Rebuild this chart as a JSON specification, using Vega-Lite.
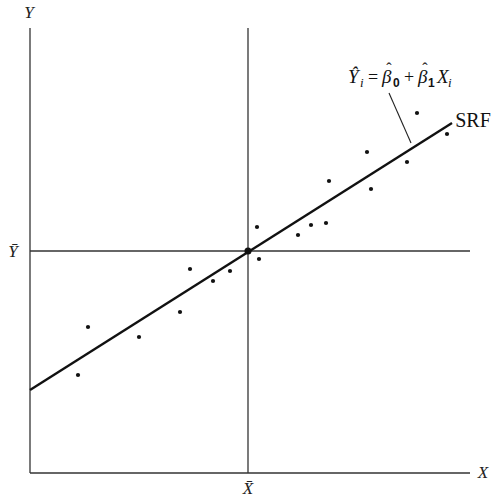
{
  "$schema": "https://vega.github.io/schema/vega-lite/v6.json",
  "width": 493,
  "height": 499,
  "padding": 0,
  "autosize": {"type": "none"},
  "background": "white",
  "config": {"view": {"stroke": null}},
  "datasets": {
    "frame": [
      {"x": 0, "y": 0, "x2": 0, "y2": 445},
      {"x": 0, "y": 0, "x2": 440, "y2": 0},
      {"x": 0, "y": 222, "x2": 440, "y2": 222},
      {"x": 218, "y": 0, "x2": 218, "y2": 445}
    ],
    "srf": [{"x": 0, "y": 83, "x2": 422, "y2": 350}],
    "pointer": [{"x": 359, "y": 380, "x2": 381, "y2": 330}],
    "obs": [
      {"x": 48, "y": 98}, {"x": 58, "y": 146}, {"x": 109, "y": 136},
      {"x": 150, "y": 161}, {"x": 160, "y": 204}, {"x": 183, "y": 192},
      {"x": 200, "y": 202}, {"x": 227, "y": 246}, {"x": 229, "y": 214},
      {"x": 268, "y": 238}, {"x": 281, "y": 248}, {"x": 296, "y": 250},
      {"x": 299, "y": 292}, {"x": 337, "y": 321}, {"x": 341, "y": 284},
      {"x": 377, "y": 311}, {"x": 387, "y": 360}, {"x": 417, "y": 339}
    ],
    "mean": [{"x": 218, "y": 222}],
    "axisLabels": [
      {"x": -1, "y": 460, "text": "Y"},
      {"x": -17, "y": 221, "text": "Ȳ"},
      {"x": 218, "y": -16, "text": "X̄"},
      {"x": 453, "y": 0, "text": "X"}
    ],
    "srfLabel": [{"x": 443, "y": 352, "text": "SRF"}],
    "eqItalic": [
      {"x": 318, "y": 390, "text": "Ŷ"},
      {"x": 352, "y": 390, "text": "β"},
      {"x": 388, "y": 390, "text": "β"},
      {"x": 407, "y": 390, "text": "X"}
    ],
    "eqHats": [
      {"x": 359, "y": 399, "text": "ˆ"},
      {"x": 395, "y": 399, "text": "ˆ"}
    ],
    "eqRoman": [
      {"x": 338, "y": 390, "text": "="},
      {"x": 374, "y": 390, "text": "+"}
    ],
    "eqSubI": [
      {"x": 330, "y": 386, "text": "i"},
      {"x": 418, "y": 386, "text": "i"}
    ],
    "eqSubB": [
      {"x": 363, "y": 386, "text": "0"},
      {"x": 398, "y": 386, "text": "1"}
    ]
  },
  "encoding": {
    "x": {"field": "x", "type": "quantitative", "scale": {"domain": [-30, 463], "nice": false, "zero": false}, "axis": null},
    "y": {"field": "y", "type": "quantitative", "scale": {"domain": [-26, 473], "nice": false, "zero": false}, "axis": null}
  },
  "layer": [
    {
      "data": {"name": "frame"},
      "mark": {"type": "rule", "stroke": "#333333", "strokeWidth": 1.3},
      "encoding": {"x2": {"field": "x2"}, "y2": {"field": "y2"}}
    },
    {
      "data": {"name": "srf"},
      "mark": {"type": "rule", "stroke": "#111111", "strokeWidth": 2.4},
      "encoding": {"x2": {"field": "x2"}, "y2": {"field": "y2"}}
    },
    {
      "data": {"name": "pointer"},
      "mark": {"type": "rule", "stroke": "#222222", "strokeWidth": 1.1},
      "encoding": {"x2": {"field": "x2"}, "y2": {"field": "y2"}}
    },
    {
      "data": {"name": "obs"},
      "mark": {"type": "circle", "color": "#111111", "size": 18, "opacity": 1}
    },
    {
      "data": {"name": "mean"},
      "mark": {"type": "circle", "color": "#111111", "size": 50, "opacity": 1}
    },
    {
      "data": {"name": "axisLabels"},
      "mark": {"type": "text", "font": "Times New Roman, Liberation Serif, serif", "fontStyle": "italic", "fontSize": 17, "align": "center", "baseline": "middle", "color": "#222222"},
      "encoding": {"text": {"field": "text"}}
    },
    {
      "data": {"name": "srfLabel"},
      "mark": {"type": "text", "font": "Times New Roman, Liberation Serif, serif", "fontSize": 20, "align": "center", "baseline": "middle", "color": "#111111"},
      "encoding": {"text": {"field": "text"}}
    },
    {
      "data": {"name": "eqItalic"},
      "mark": {"type": "text", "font": "Times New Roman, Liberation Serif, serif", "fontStyle": "italic", "fontSize": 19, "align": "left", "baseline": "alphabetic", "color": "#111111"},
      "encoding": {"text": {"field": "text"}}
    },
    {
      "data": {"name": "eqHats"},
      "mark": {"type": "text", "font": "Times New Roman, Liberation Serif, serif", "fontSize": 16, "align": "center", "baseline": "alphabetic", "color": "#111111"},
      "encoding": {"text": {"field": "text"}}
    },
    {
      "data": {"name": "eqRoman"},
      "mark": {"type": "text", "font": "Times New Roman, Liberation Serif, serif", "fontSize": 18, "align": "left", "baseline": "alphabetic", "color": "#111111"},
      "encoding": {"text": {"field": "text"}}
    },
    {
      "data": {"name": "eqSubI"},
      "mark": {"type": "text", "font": "Times New Roman, Liberation Serif, serif", "fontStyle": "italic", "fontSize": 13, "align": "left", "baseline": "alphabetic", "color": "#111111"},
      "encoding": {"text": {"field": "text"}}
    },
    {
      "data": {"name": "eqSubB"},
      "mark": {"type": "text", "font": "Liberation Sans, Arial, sans-serif", "fontWeight": "bold", "fontSize": 12, "align": "left", "baseline": "alphabetic", "color": "#111111"},
      "encoding": {"text": {"field": "text"}}
    }
  ]
}
